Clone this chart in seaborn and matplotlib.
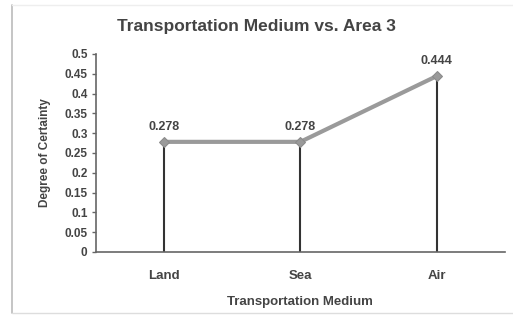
import matplotlib
matplotlib.use("Agg")
import matplotlib.pyplot as plt
import seaborn as sns
import pandas as pd
from matplotlib.lines import Line2D

# Data
media = ["Land", "Sea", "Air"]
certainty = [0.278, 0.278, 0.444]
yticks = [0, 0.05, 0.1, 0.15, 0.2, 0.25, 0.3, 0.35, 0.4, 0.45, 0.5]
ytick_labels = ["0", "0.05", "0.1", "0.15", "0.2", "0.25", "0.3", "0.35", "0.4", "0.45", "0.5"]

df = pd.DataFrame({"medium": media, "certainty": certainty})
df["pos"] = range(len(media))

sns.set_style("white")
plt.rcParams["font.family"] = ["Liberation Sans", "DejaVu Sans"]

txt = "#444444"
fig = plt.figure(figsize=(5.13, 3.23), dpi=100)
ax = fig.add_axes([0.187, 0.22, 0.797, 0.613])

# drop lines
ax.vlines(df["pos"], 0, df["certainty"], color="#333333", linewidth=1.5, zorder=2)
sns.lineplot(data=df, x="pos", y="certainty", sort=False, ax=ax, color="#9a9a9a",
             linewidth=3, marker="D", markersize=5, markeredgecolor="#8a8a8a", zorder=3)

for x, y in zip(df["pos"], df["certainty"]):
    ax.text(x, y + 0.022, f"{y:.3f}", ha="center", va="bottom", fontsize=9,
            fontweight="bold", color=txt)

ax.set_xlim(-0.5, 2.5)
ax.set_ylim(0, 0.5)
ax.set_xticks(df["pos"])
ax.set_xticklabels(media, fontsize=9.5, fontweight="bold", color=txt)
ax.set_yticks(yticks)
ax.set_yticklabels(ytick_labels, fontsize=8.5, fontweight="bold", color=txt)
ax.tick_params(axis="y", length=3, width=1, color="#666666", pad=3, left=True)
ax.tick_params(axis="x", length=0, pad=13)
ax.set_xlabel("Transportation Medium", fontsize=9.5, fontweight="bold", color=txt, labelpad=10)
ax.set_ylabel("Degree of Certainty", fontsize=8.5, fontweight="bold", color=txt, labelpad=10)
fig.suptitle("Transportation Medium vs. Area 3", x=0.5, y=0.94, fontsize=12.5,
             fontweight="bold", color=txt)

sns.despine(ax=ax, top=True, right=True)
for s in ["left", "bottom"]:
    ax.spines[s].set_color("#666666")
    ax.spines[s].set_linewidth(1.2)

# chart frame lines
fig.add_artist(Line2D([12 / 513, 12 / 513], [0.03, 0.985], color="#bbbbbb", linewidth=1.2))
fig.add_artist(Line2D([12 / 513, 1.0], [0.03, 0.03], color="#dddddd", linewidth=1.0))
fig.add_artist(Line2D([12 / 513, 1.0], [0.985, 0.985], color="#eeeeee", linewidth=1.0))

fig.savefig("out.png", dpi=100)
